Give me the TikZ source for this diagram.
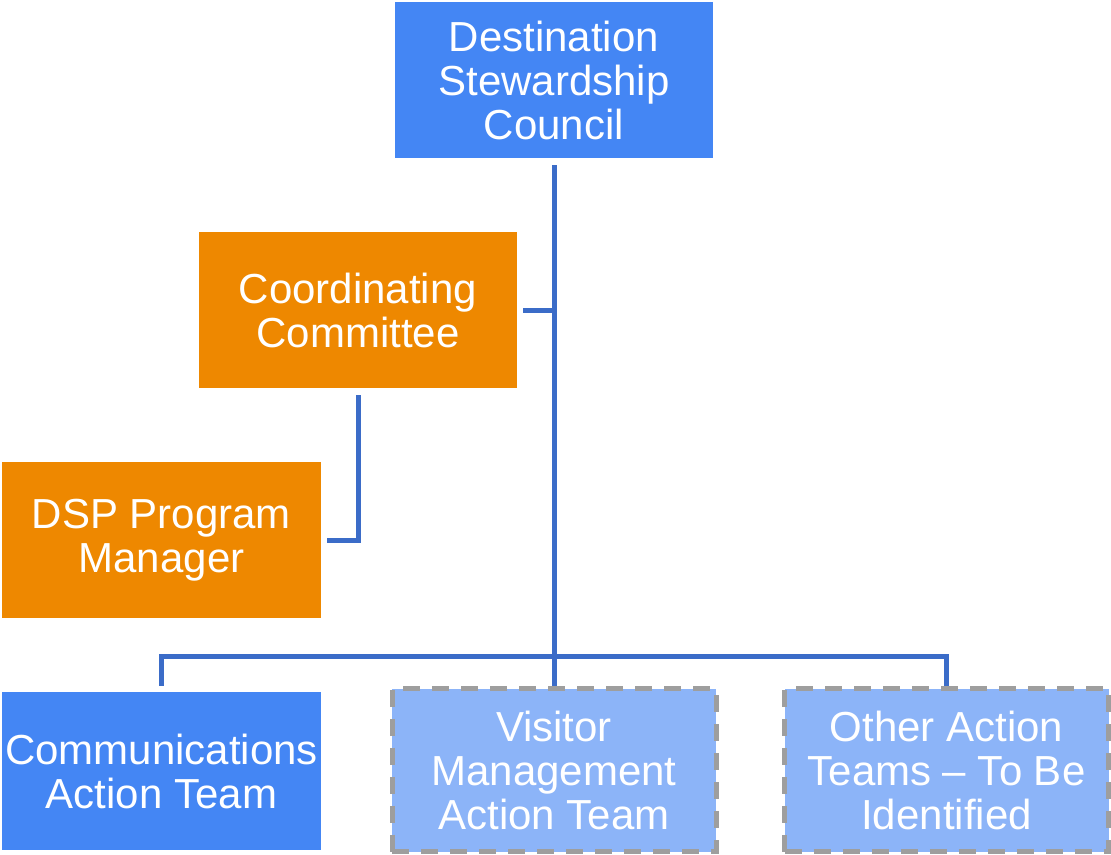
\documentclass[tikz,border=0pt]{standalone}
\usepackage{fontspec}
\setmainfont{Liberation Sans}
\definecolor{cblue}{HTML}{4486F4}
\definecolor{corange}{HTML}{EE8800}
\definecolor{clight}{HTML}{8CB4F8}
\definecolor{cline}{HTML}{3B6CC8}
\definecolor{cdash}{HTML}{9E9E9E}
\begin{document}
\begin{tikzpicture}[x=1pt,y=-1pt,
  box/.style={rectangle, inner sep=0pt, align=center, text=white,
    font=\fontsize{42}{44}\selectfont},
  bluebox/.style={box, fill=cblue},
  orangebox/.style={box, fill=corange},
  tbdbox/.style={box, fill=clight, draw=cdash, line width=5pt, dash pattern=on 17pt off 12pt},
  conn/.style={draw=cline, line width=5pt}]
\useasboundingbox (0,0) rectangle (1111,854);
\node[bluebox, minimum width=318pt, minimum height=156pt] (council) at (554,80) {Destination\\Stewardship\\Council};
\node[orangebox, minimum width=318pt, minimum height=156pt] (coord) at (358,310) {Coordinating\\Committee};
\node[orangebox, minimum width=319pt, minimum height=156pt] (dsp) at (161.5,540) {DSP Program\\Manager};
\node[bluebox, minimum width=319pt, minimum height=158pt] (comm) at (161.5,771) {Communications\\Action Team};
\node[tbdbox, minimum width=324pt, minimum height=163pt] (visitor) at (554,770) {Visitor\\Management\\Action Team};
\node[tbdbox, minimum width=324pt, minimum height=163pt] (other) at (946.5,770) {Other Action\\Teams -- To Be\\Identified};
\coordinate (bar) at (554,656);
\draw[conn, shorten <=7pt] (council.south) -- (visitor.north);
\draw[conn, shorten <=6pt] (coord.east) -- (coord.east -| council.south);
\draw[conn, shorten <=7pt, shorten >=6pt] (coord.south) |- (dsp.east);
\draw[conn, shorten <=6pt] (comm.north) |- (bar) -| (other.north);
\end{tikzpicture}
\end{document}
